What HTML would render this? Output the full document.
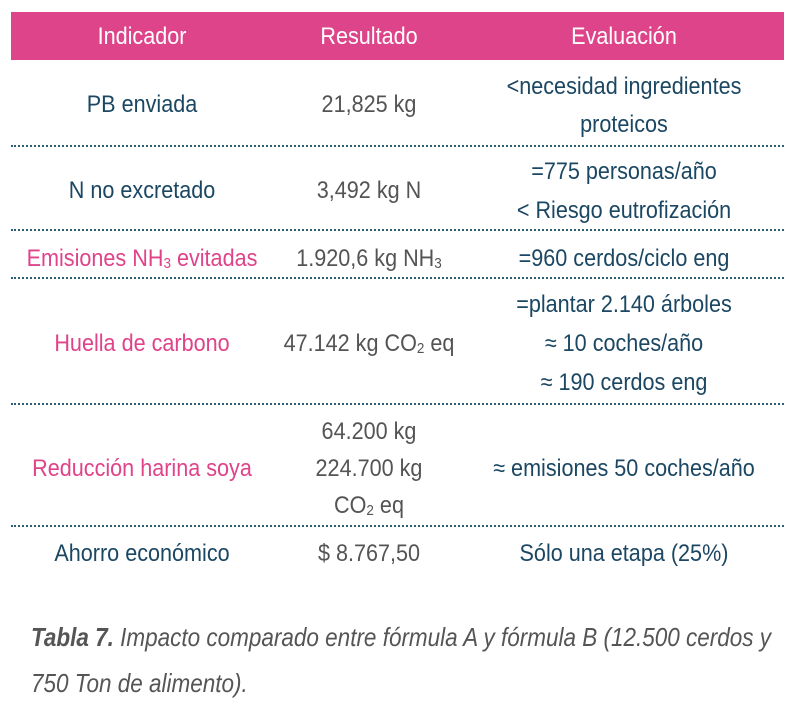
<!DOCTYPE html>
<html><head><meta charset="utf-8"><style>
body{margin:0;width:800px;height:722px;background:#fff;position:relative;overflow:hidden;font-family:"Liberation Sans Narrow","Liberation Sans",sans-serif;}
.hdr{position:absolute;left:11px;top:12px;width:773px;height:48px;background:#de4489;}
.t{position:absolute;transform:translate(-50%,-50%) scaleX(0.9);white-space:nowrap;font-size:24px;line-height:1;}
.h{color:#fff;}
.b{color:#1b4763;}
.p{color:#df438a;}
.g{color:#545454;}
.sep{position:absolute;left:11px;width:773px;border-top:2px dotted #2f5c78;height:0;}
sub{font-size:15px;vertical-align:-2px;}
.cap{position:absolute;left:31px;font-size:26px;font-style:italic;color:#555;white-space:nowrap;transform:scaleX(0.865);transform-origin:0 0;}
</style></head><body>
<div class="hdr"></div>
<div class="t h" style="left:142px;top:37px">Indicador</div>
<div class="t h" style="left:369px;top:37px">Resultado</div>
<div class="t h" style="left:624px;top:37px">Evaluación</div>

<div class="t b" style="left:142px;top:105px">PB enviada</div>
<div class="t g" style="left:369px;top:105px">21,825 kg</div>
<div class="t b" style="left:624px;top:87px">&lt;necesidad ingredientes</div>
<div class="t b" style="left:624px;top:125px">proteicos</div>
<div class="sep" style="top:145px"></div>

<div class="t b" style="left:142px;top:191px">N no excretado</div>
<div class="t g" style="left:369px;top:191px">3,492 kg N</div>
<div class="t b" style="left:624px;top:172px">=775 personas/año</div>
<div class="t b" style="left:624px;top:211px">&lt; Riesgo eutrofización</div>
<div class="sep" style="top:229px"></div>

<div class="t p" style="left:142px;top:259px">Emisiones NH<sub>3</sub> evitadas</div>
<div class="t g" style="left:369px;top:259px">1.920,6 kg NH<sub>3</sub></div>
<div class="t b" style="left:624px;top:259px">=960 cerdos/ciclo eng</div>
<div class="sep" style="top:277px"></div>

<div class="t p" style="left:142px;top:344px">Huella de carbono</div>
<div class="t g" style="left:369px;top:344px">47.142 kg CO<sub>2</sub> eq</div>
<div class="t b" style="left:624px;top:305px">=plantar 2.140 árboles</div>
<div class="t b" style="left:624px;top:344px">≈ 10 coches/año</div>
<div class="t b" style="left:624px;top:383px">≈ 190 cerdos eng</div>
<div class="sep" style="top:403px"></div>

<div class="t p" style="left:142px;top:469px">Reducción harina soya</div>
<div class="t g" style="left:369px;top:432px">64.200 kg</div>
<div class="t g" style="left:369px;top:469px">224.700 kg</div>
<div class="t g" style="left:369px;top:506px">CO<sub>2</sub> eq</div>
<div class="t b" style="left:624px;top:469px">≈ emisiones 50 coches/año</div>
<div class="sep" style="top:525px"></div>

<div class="t b" style="left:142px;top:554px">Ahorro económico</div>
<div class="t g" style="left:369px;top:554px">$ 8.767,50</div>
<div class="t b" style="left:624px;top:554px">Sólo una etapa (25%)</div>

<div class="cap" style="top:622px"><b>Tabla 7.</b> Impacto comparado entre fórmula A y fórmula B (12.500 cerdos y</div>
<div class="cap" style="top:668px">750 Ton de alimento).</div>
</body></html>
